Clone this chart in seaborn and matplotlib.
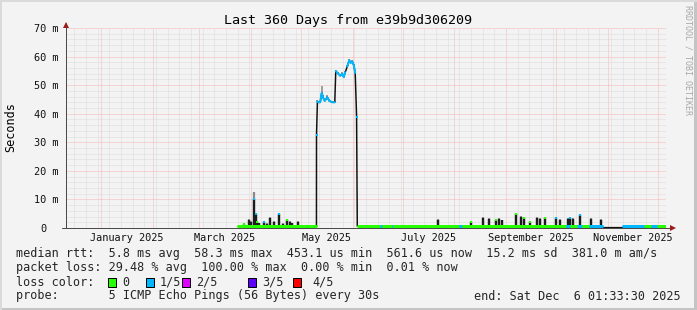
import numpy as np
import pandas as pd
import matplotlib
matplotlib.use("Agg")
import matplotlib.pyplot as plt
import matplotlib.dates as mdates
from matplotlib.ticker import MultipleLocator, FuncFormatter, NullFormatter
from matplotlib.patches import Rectangle
import seaborn as sns

# ---------------- data ----------------
START = pd.Timestamp("2024-12-11 01:33:30")
END = pd.Timestamp("2025-12-06 01:33:30")

LOSS_COLORS = ["#26ff00", "#00b8ff", "#dd00ff", "#5e00ff", "#ff0000"]
LOSS_LABELS = ["0", "1/5", "2/5", "3/5", "4/5"]

# low-level median segments (ms) and their loss level (-1 = no loss colour drawn)
seg_start = ["2025-03-24 00:00", "2025-06-04 12:00", "2025-06-18 00:00", "2025-06-19 05:00",
             "2025-06-25 05:00", "2025-06-25 20:00", "2025-08-04 10:00", "2025-08-06 05:00",
             "2025-10-07 14:00", "2025-10-10 00:00", "2025-10-14 05:00", "2025-10-17 05:00",
             "2025-10-21 10:00", "2025-10-28 14:00", "2025-11-10 05:00", "2025-11-23 10:00",
             "2025-11-27 14:00", "2025-12-01 05:00"]
seg_end = ["2025-05-10 08:00", "2025-06-18 00:00", "2025-06-19 05:00", "2025-06-25 05:00",
           "2025-06-25 20:00", "2025-08-04 10:00", "2025-08-06 05:00", "2025-10-07 14:00",
           "2025-10-10 00:00", "2025-10-14 05:00", "2025-10-17 05:00", "2025-10-21 10:00",
           "2025-10-28 14:00", "2025-11-10 05:00", "2025-11-23 10:00", "2025-11-27 14:00",
           "2025-12-01 05:00", "2025-12-05 10:00"]
seg_loss = [0, 0, 1, 0, 1, 0, 1, 0, 1, 0, 1, 0, 1, -1, 1, 0, 1, 0]
seg_median_ms = [0.6, 0.6, 0.6, 0.6, 0.6, 0.6, 0.6, 0.6, 0.6, 0.6, 0.6, 0.6, 0.6, 0.3, 0.6, 0.6, 0.6, 0.6]

# short latency spikes: date, top of dark bar (ms), smoke max (ms), loss level of the tip
spike_dates = ["2025-03-27 20:00", "2025-03-30 20:00", "2025-04-01 08:00", "2025-04-02 20:00",
               "2025-04-04 00:00", "2025-04-04 22:00", "2025-04-06 02:00", "2025-04-08 20:00",
               "2025-04-10 14:00", "2025-04-12 17:00", "2025-04-14 20:00", "2025-04-17 20:00",
               "2025-04-20 05:00", "2025-04-22 22:00", "2025-04-24 10:00", "2025-04-25 22:00",
               "2025-04-29 12:00",
               "2025-07-22 05:00", "2025-08-11 00:00", "2025-08-18 05:00", "2025-08-21 20:00",
               "2025-08-26 00:00", "2025-08-27 20:00", "2025-08-29 22:00", "2025-09-07 00:00",
               "2025-09-10 00:00", "2025-09-11 20:00", "2025-09-15 17:00", "2025-09-19 14:00",
               "2025-09-21 10:00", "2025-09-24 10:00", "2025-10-01 00:00", "2025-10-03 10:00",
               "2025-10-08 05:00", "2025-10-09 10:00", "2025-10-11 12:00", "2025-10-15 10:00",
               "2025-10-22 00:00", "2025-10-28 00:00"]
spike_top_ms = [1.5, 2.7, 2.0, 10.3, 5.0, 2.0, 1.6, 2.0, 1.5, 3.6, 2.0, 5.0, 1.5, 2.9, 2.0, 1.6, 2.0,
                2.9, 2.2, 3.6, 3.3, 2.7, 3.3, 2.7, 4.8, 3.9, 3.6, 2.1, 3.6, 3.3, 3.6, 3.6, 2.9,
                3.3, 3.6, 3.3, 4.6, 3.3, 2.9]
spike_smoke_ms = [1.8, 3.0, 2.4, 12.7, 5.4, 2.4, 1.8, 2.4, 1.8, 4.0, 2.3, 5.3, 1.8, 3.1, 2.3, 1.9, 2.3,
                  3.0, 2.4, 3.8, 3.5, 2.9, 3.5, 2.9, 5.1, 4.1, 3.8, 2.3, 3.8, 3.5, 3.8, 3.8, 3.0,
                  3.5, 3.8, 3.5, 4.9, 3.5, 3.0]
spike_loss = [0, -1, -1, 1, 1, 0, -1, 1, -1, -1, -1, 1, -1, 0, -1, -1, -1,
              -1, 0, -1, -1, 0, -1, -1, 0, -1, 0, 0, -1, -1, 0, 1, -1,
              -1, 1, -1, 1, -1, -1]

# high-latency period in May
block_dates = ["2025-05-10 08:00", "2025-05-10 09:00", "2025-05-10 22:00", "2025-05-11 10:00",
               "2025-05-12 14:00", "2025-05-13 12:00", "2025-05-14 10:00", "2025-05-15 08:00",
               "2025-05-16 20:00", "2025-05-18 00:00", "2025-05-19 20:00", "2025-05-21 08:00",
               "2025-05-21 22:00", "2025-05-23 10:00", "2025-05-24 14:00", "2025-05-25 20:00",
               "2025-05-26 17:00", "2025-05-27 14:00", "2025-05-28 20:00", "2025-05-30 00:00",
               "2025-05-30 22:00", "2025-05-31 20:00", "2025-06-01 17:00", "2025-06-02 14:00",
               "2025-06-03 10:00", "2025-06-03 20:00"]
block_median_ms = [0.6, 32.6, 44.3, 44.0, 44.0, 47.3, 45.5, 44.5, 45.8, 44.5, 44.0, 44.0,
                   54.9, 54.0, 53.3, 54.0, 52.8, 54.5, 56.5, 58.7, 57.8, 58.3, 57.0, 54.3, 39.0, 0.6]
block_smoke_ms = [0.6, 32.6, 44.8, 44.5, 44.6, 49.6, 46.5, 45.0, 46.5, 45.0, 44.5, 44.5,
                  55.3, 54.6, 54.0, 54.6, 53.5, 55.0, 57.0, 59.3, 58.3, 58.8, 57.5, 54.8, 39.0, 0.6]
# runs of consecutive samples drawn in the 1/5 loss colour (-1 = not coloured)
block_run = [-1, 0, 1, 1, 1, 1, 1, 1, 1, 1, 1, 1, 2, 2, 2, 2, 2, 2, 3, 3, 3, 3, 3, 3, 4, -1]

TITLE = "Last 360 Days from e39b9d306209"
MONTH_LABELS = ["January 2025", "March 2025", "May 2025", "July 2025", "September 2025", "November 2025"]
MONTH_LABEL_DATES = ["2025-01-16 12:00", "2025-03-16 12:00", "2025-05-16 12:00",
                     "2025-07-16 12:00", "2025-09-16 00:00", "2025-11-16 00:00"]
LEGEND_LINE1 = "median rtt:  5.8 ms avg  58.3 ms max  453.1 us min  561.6 us now  15.2 ms sd  381.0 m am/s"
LEGEND_LINE2 = "packet loss: 29.48 % avg  100.00 % max  0.00 % min  0.01 % now"
LEGEND_LINE4 = "probe:       5 ICMP Echo Pings (56 Bytes) every 30s"
END_TEXT = "end: Sat Dec  6 01:33:30 2025"

# ---------------- style ----------------
sns.set_style("white")
plt.rcParams["font.family"] = ["DejaVu Sans Mono"]

BG = "#f3f3f3"
W, H = 697, 310
fig = plt.figure(figsize=(W / 100, H / 100), dpi=100, facecolor=BG)
ax = fig.add_axes([66 / W, 82 / H, 600 / W, 200 / H])
ax.set_facecolor(BG)

def fx(x):
    return x / W

def fy(y):
    return 1 - y / H

PX = 0.72  # one pixel in points

ax.set_xlim(START, END)
ax.set_ylim(0, 70)

# grids
ax.xaxis.set_major_locator(mdates.MonthLocator())
ax.xaxis.set_minor_locator(mdates.WeekdayLocator(byweekday=mdates.MO))
ax.xaxis.set_major_formatter(NullFormatter())
ax.xaxis.set_minor_formatter(NullFormatter())
ax.yaxis.set_major_locator(MultipleLocator(10))
ax.yaxis.set_minor_locator(MultipleLocator(2))
ax.yaxis.set_major_formatter(FuncFormatter(lambda v, p: "0  " if v == 0 else f"{int(v)} m"))
ax.grid(which="minor", color="#dadada", linestyle=(0, (1, 1)), linewidth=PX)
ax.grid(which="major", color="#f5b4b4", linestyle=(0, (1, 1)), linewidth=PX)
ax.set_axisbelow(True)
for s in ax.spines.values():
    s.set_visible(False)
ax.tick_params(axis="y", which="major", direction="out", length=3 * PX, width=PX, color="#555555",
               labelsize=7.4, pad=4 * PX, labelcolor="#111111")
ax.tick_params(axis="y", which="minor", direction="out", length=2 * PX, width=PX, color="#777777")
ax.tick_params(axis="x", which="major", direction="out", length=3 * PX, width=PX, color="#555555")
ax.tick_params(axis="x", which="minor", direction="out", length=2 * PX, width=PX, color="#888888")

sec = ax.secondary_xaxis("bottom")
sec.set_xticks(mdates.date2num(pd.to_datetime(MONTH_LABEL_DATES)), MONTH_LABELS)
sec.tick_params(length=0, pad=5 * PX, labelsize=7.4, labelcolor="#111111")
for s in sec.spines.values():
    s.set_visible(False)

# ---------------- data drawing ----------------
# spikes: smoke (grey) and dark bars
sd = pd.to_datetime(spike_dates)
top = np.array(spike_top_ms)
smk = np.array(spike_smoke_ms)
ax.vlines(sd, top, smk, color="#8a8a8a", linewidth=2.2 * PX, zorder=3)
ax.vlines(sd, 0.6, top, color="#1c1c1c", linewidth=2.4 * PX, zorder=4)

# block smoke
bd = pd.to_datetime(block_dates)
ax.vlines(bd, block_median_ms, block_smoke_ms, color="#8a8a8a", linewidth=1.6 * PX, zorder=3)

# dark median line
block_df = pd.DataFrame({"t": bd, "ms": block_median_ms, "run": block_run})
sns.lineplot(data=block_df, x="t", y="ms", color="#111111", linewidth=1.5 * PX, ax=ax, zorder=5,
             estimator=None)
for s0, s1, ls, med in zip(seg_start, seg_end, seg_loss, seg_median_ms):
    seg = pd.DataFrame({"t": pd.to_datetime([s0, s1]), "ms": [med, med]})
    sns.lineplot(data=seg, x="t", y="ms", color="#111111", linewidth=1.2 * PX, ax=ax, zorder=5,
                 estimator=None)
    if ls >= 0:
        sns.lineplot(data=seg, x="t", y="ms", color=LOSS_COLORS[ls], linewidth=3 * PX, ax=ax,
                     zorder=6, estimator=None)

# loss coloured median in the block (1/5 loss), one run of samples at a time
for run_id, grp in block_df[block_df["run"] >= 0].groupby("run"):
    if len(grp) > 1:
        sns.lineplot(data=grp, x="t", y="ms", color=LOSS_COLORS[1], linewidth=2 * PX, ax=ax,
                     zorder=6, estimator=None)
    else:
        ax.plot(grp["t"], grp["ms"], marker="s", markersize=2 * PX, color=LOSS_COLORS[1],
                markeredgewidth=0, zorder=6)

# coloured tips of spikes
for d, t, l in zip(sd, top, spike_loss):
    if l >= 0:
        ax.plot([d], [t], marker="s", markersize=2.2 * PX, color=LOSS_COLORS[l],
                markeredgewidth=0, zorder=7)

ax.set_xlabel("")
ax.set_ylabel("")

# ---------------- axes lines with arrows ----------------
axis_col = "#4a4a4a"
arrow_col = "#9b1c1c"
ax.plot([0, 0], [0, 1.027], transform=ax.transAxes, color=axis_col, linewidth=PX, clip_on=False, zorder=8)
ax.plot([-0.006, 1.007], [0, 0], transform=ax.transAxes, color=axis_col, linewidth=PX, clip_on=False, zorder=8)
ax.plot([0], [1.015], transform=ax.transAxes, marker="^", markersize=4.5, color=arrow_col,
        markeredgewidth=0, clip_on=False, zorder=9)
ax.plot([1.011], [0], transform=ax.transAxes, marker=">", markersize=4.5, color=arrow_col,
        markeredgewidth=0, clip_on=False, zorder=9)

# ---------------- texts ----------------
fig.text(fx(348), fy(24), TITLE, ha="center", va="baseline", fontsize=9.6, color="#000000")
fig.text(fx(11), fy(127), "Seconds", rotation=90, ha="center", va="center", fontsize=8.5, color="#000000")
fig.text(fx(688), fy(5), "RRDTOOL / TOBI OETIKER", rotation=-90, ha="center", va="top",
         fontsize=6, color="#a8a8a8")

lfs = 8.5
fig.text(fx(16), fy(257.5), LEGEND_LINE1, ha="left", va="baseline", fontsize=lfs)
fig.text(fx(16), fy(271.5), LEGEND_LINE2, ha="left", va="baseline", fontsize=lfs)
fig.text(fx(16), fy(285.5), "loss color:", ha="left", va="baseline", fontsize=lfs)
box_x = [108, 145.7, 181.7, 247.7, 293.3]
lab_x = [122.7, 160, 196, 262.3, 312.7]
for bx, lx, c, lab in zip(box_x, lab_x, LOSS_COLORS, LOSS_LABELS):
    fig.patches.append(Rectangle((fx(bx), fy(286.5)), 8 / W, 9 / H, transform=fig.transFigure,
                                 facecolor=c, edgecolor="#000000", linewidth=PX))
    fig.text(fx(lx), fy(285.5), lab, ha="left", va="baseline", fontsize=lfs)
fig.text(fx(16), fy(299.5), LEGEND_LINE4, ha="left", va="baseline", fontsize=lfs)
fig.text(fx(681), fy(299.5), END_TEXT, ha="right", va="baseline", fontsize=lfs)

# frame of the image
fig.patches.append(Rectangle((0, 0), 1, 2 / H, transform=fig.transFigure, facecolor="#c4c4c4", edgecolor="none"))
fig.patches.append(Rectangle((1 - 3 / W, 0), 3 / W, 1, transform=fig.transFigure, facecolor="#c4c4c4", edgecolor="none"))
fig.patches.append(Rectangle((0, 1 - 2 / H), 1, 2 / H, transform=fig.transFigure, facecolor="#dadada", edgecolor="none"))
fig.patches.append(Rectangle((0, 0), 2 / W, 1, transform=fig.transFigure, facecolor="#dadada", edgecolor="none"))

fig.savefig("out.png", dpi=100, facecolor=BG)
